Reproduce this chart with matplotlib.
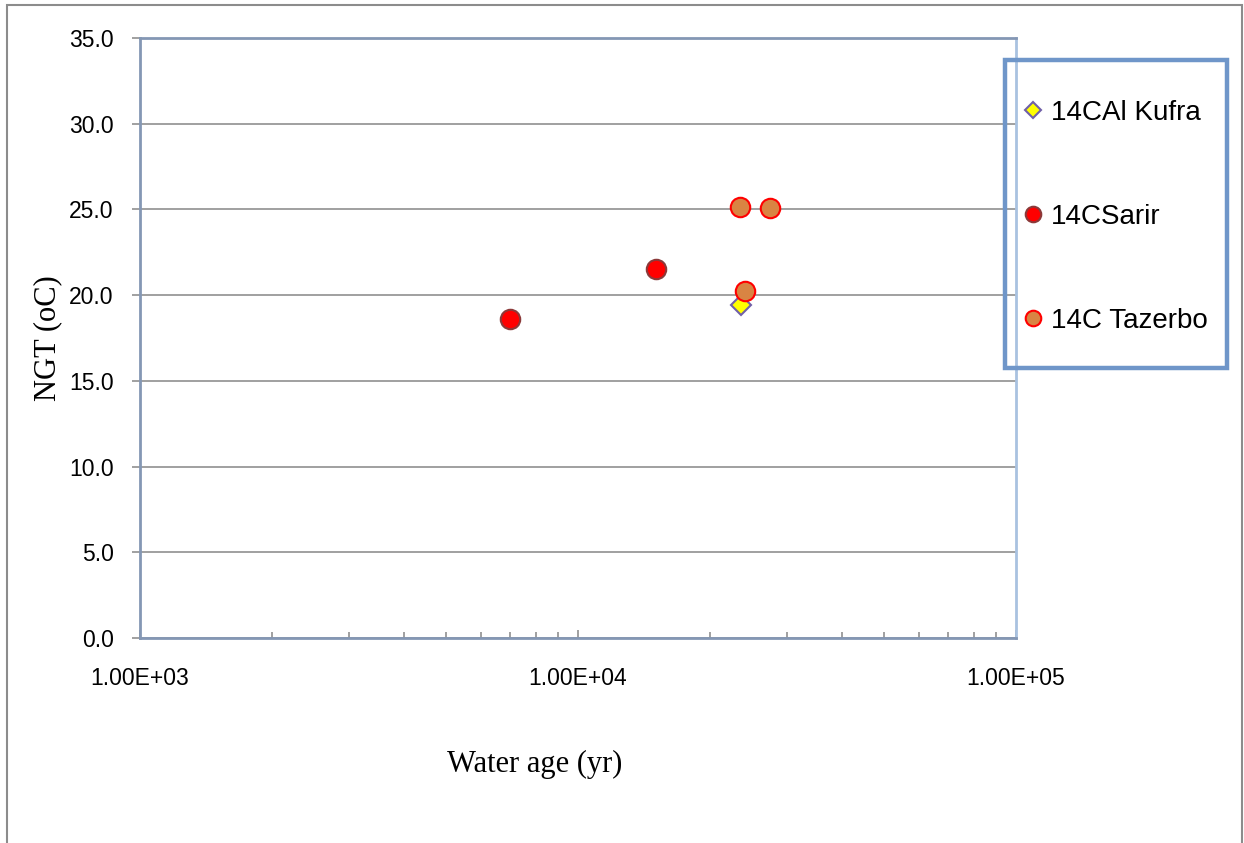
import matplotlib
matplotlib.use("Agg")
import matplotlib.pyplot as plt
from matplotlib.ticker import LogLocator, FuncFormatter, MultipleLocator, NullFormatter
from matplotlib.patches import Rectangle

# Radiocarbon water ages (yr) and noble gas temperatures (oC)
kufra_age = [23500]
kufra_ngt = [19.4]

sarir_age = [7000, 15100]
sarir_ngt = [18.6, 21.55]

tazerbo_age = [23400, 27400, 24000]
tazerbo_ngt = [25.15, 25.1, 20.25]

series_labels = ["14CAl Kufra", "14CSarir", "14C Tazerbo"]

W, H = 1244, 843
fig = plt.figure(figsize=(W / 100, H / 100), dpi=100)
ax = fig.add_axes([140 / W, 1 - 638 / H, (1016 - 140) / W, (638 - 38) / H])

sans = "Liberation Sans"
serif = "Liberation Serif"

h1, = ax.plot(kufra_age, kufra_ngt, linestyle="none", marker="D", markersize=10,
              markerfacecolor="#FFFF00", markeredgecolor="#7060A8",
              markeredgewidth=1.5, zorder=3, label=series_labels[0])
h2, = ax.plot(sarir_age, sarir_ngt, linestyle="none", marker="o", markersize=14,
              markerfacecolor="#FF0000", markeredgecolor="#8B3A3A",
              markeredgewidth=1.5, zorder=4, label=series_labels[1])
h3, = ax.plot(tazerbo_age, tazerbo_ngt, linestyle="none", marker="o", markersize=14,
              markerfacecolor="#D98443", markeredgecolor="#FF0000",
              markeredgewidth=1.5, zorder=5, label=series_labels[2])

ax.set_xscale("log")
ax.set_xlim(1e3, 1e5)
ax.set_ylim(0, 35)

ax.xaxis.set_major_locator(LogLocator(base=10, numticks=10))
ax.xaxis.set_minor_locator(LogLocator(base=10, subs=range(2, 10), numticks=10))
ax.xaxis.set_major_formatter(FuncFormatter(lambda v, p: f"{v:.2E}"))
ax.xaxis.set_minor_formatter(NullFormatter())
ax.yaxis.set_major_locator(MultipleLocator(5))
ax.yaxis.set_major_formatter(FuncFormatter(lambda v, p: f"{v:.1f}"))

ax.grid(axis="y", color="#868686", linewidth=1.1)
ax.grid(axis="x", visible=False)
ax.set_axisbelow(True)

ax.tick_params(axis="y", direction="out", length=6, width=1.1, color="#868686",
               pad=13, labelsize=16.5)
ax.tick_params(axis="x", which="major", direction="in", length=6, width=1.1,
               color="#868686", pad=21, labelsize=16.5)
ax.tick_params(axis="x", which="minor", direction="in", length=4.5, width=1.1,
               color="#868686")
for lab in ax.get_xticklabels() + ax.get_yticklabels():
    lab.set_fontfamily(sans)

for side in ["left", "top", "bottom"]:
    ax.spines[side].set_color("#8497B4")
    ax.spines[side].set_linewidth(2)
ax.spines["right"].set_color("#A9C2E0")
ax.spines["right"].set_linewidth(2)

ax.set_xlabel("Water age (yr)", fontfamily=serif, fontsize=22, labelpad=0)
ax.xaxis.set_label_coords((535 - 140) / (1016 - 140), -(750 - 638) / (638 - 38))
ax.set_ylabel("NGT (oC)", fontfamily=serif, fontsize=22)
ax.yaxis.set_label_coords(-(140 - 62) / (1016 - 140), 0.5)

# Legend entries without their own frame; the box is drawn separately
leg = fig.legend(handles=[h1, h2, h3], loc="upper left",
                 bbox_to_anchor=(1024.5 / W, 1 - 99.5 / H),
                 prop={"family": sans, "size": 20}, markerscale=0.8,
                 frameon=False, labelspacing=2.82,
                 borderpad=0, handlelength=0.6, handletextpad=0.35,
                 borderaxespad=0)

fig.patches.append(Rectangle((1005 / W, 1 - 368 / H), (1227 - 1005) / W, (368 - 60) / H,
                             transform=fig.transFigure, fill=False,
                             edgecolor="#6F96C9", linewidth=3.2, zorder=5))

# Outer chart border
fig.patches.append(Rectangle((7 / W, -0.02), (1242 - 7) / W, 1.02 - 5 / H,
                             transform=fig.transFigure, fill=False,
                             edgecolor="#8C8C8C", linewidth=1.5))

fig.savefig("out.png", dpi=100)
